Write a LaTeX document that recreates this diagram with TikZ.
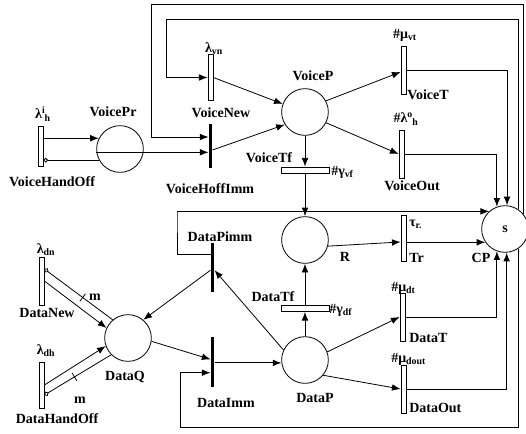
\documentclass[tikz,border=0pt]{standalone}
\usepackage{fontspec}
\setmainfont{Liberation Serif}
\usetikzlibrary{arrows.meta,calc}
\tikzset{
  place/.style={circle, draw, line width=0.6pt, minimum size=35pt, inner sep=0pt},
  tvbar/.style={draw, fill=white, line width=0.6pt, minimum width=3.75pt, minimum height=#1, inner sep=0pt},
  thbar/.style={draw, fill=white, line width=0.6pt, minimum width=36pt, minimum height=4.5pt, inner sep=0pt},
  ibar/.style={fill=black, minimum width=2.6pt, minimum height=#1, inner sep=0pt},
  arc/.style={line width=0.6pt, -{Latex[length=6.5pt,width=5pt]}},
  inh/.style={line width=0.6pt, -{Circle[open,length=3.5pt,width=3.5pt]}},
  tick/.style={sloped, draw, line width=0.6pt, inner sep=0pt, minimum width=0pt, minimum height=7pt, shape=rectangle},
  lbl/.style={font=\fontsize{10.5}{12}\selectfont\bfseries, inner sep=0pt},
}
\begin{document}
\begin{tikzpicture}[x=0.75pt,y=-0.75pt]
\clip (0,0) rectangle (526,433);
% corner coordinates of the long loops
\coordinate (ctopA) at (151,4);
\coordinate (ctopB) at (166,19);
\coordinate (cdp) at (177,212);
\coordinate (cbot) at (180,427);
% places
\node[place] (vpr) at (120,149) {};
\node[place] (vp) at (305,112) {};
\node[place] (r) at (305,240) {};
\node[place] (cp) at (505,229) {\fontsize{10.5}{12}\selectfont\bfseries s};
\node[place] (dq) at (128,338) {};
\node[place] (dp) at (305,360) {};
% transitions
\node[tvbar=30pt] (vho) at (40.5,146) {};
\node[ibar=33pt] (vhi) at (210.5,146) {};
\node[tvbar=34pt] (vn) at (210.5,77.5) {};
\node[tvbar=36pt] (vt) at (403.5,70) {};
\node[tvbar=36pt] (vo) at (401.5,154) {};
\node[thbar] (vtf) at (305,170) {};
\node[tvbar=35pt] (tr) at (403.5,238.5) {};
\node[thbar] (dtf) at (305,308.5) {};
\node[tvbar=36pt] (dt) at (402.5,317) {};
\node[tvbar=36pt] (do) at (403.5,389) {};
\node[ibar=36.75pt] (dpi) at (212.5,267.5) {};
\node[ibar=37.5pt] (di) at (212.5,362) {};
\node[tvbar=36pt] (dn) at (41.5,281) {};
\node[tvbar=34.5pt] (dh) at (41.5,385) {};
% arcs: voice part
\draw[arc] (vho.east |- vpr.153) -- (vpr.153);
\draw[inh] (vpr.208) -- (vho.east |- vpr.208);
\draw[arc] (vpr.188) -- (vpr.188 -| vhi.west);
\draw[arc] (cp.38) |- (ctopA) |- ([yshift=6.75pt]vhi.west);
\draw[arc] (cp.56) |- (ctopB) |- (vn.west);
\draw[arc] (vn.east) -- (vp.160);
\draw[arc] ([yshift=-3pt]vhi.east) -- (vp.212);
\draw[arc] (vp.28) -- ([yshift=-1.5pt]vt.west);
\draw[arc] (vp.333) -- (vo.west);
\draw[arc] (vt.east) -| (cp.85);
\draw[arc] (vo.east) -| (cp.110);
\draw[arc] (vp.south) -- (vtf.north);
\draw[arc] (vtf.south) -- (r.north);
\draw[arc] (r.345) -- ([yshift=-2.6pt]tr.west);
\draw[arc] (tr.east |- cp.214) -- (cp.214);
% arcs: data part
\draw[arc] ([yshift=10pt]dpi.west) -| (cdp) |- (cp.132);
\draw[arc] (dp.155) -- ([yshift=-2pt]dpi.east);
\draw[arc] ([yshift=-2pt]dpi.west) -- (dq.50);
\draw[arc] (dq.352) -- ([yshift=2pt]di.west);
\draw[arc] (di.east |- dp.187) -- (dp.187);
\draw[arc] (cp.304) |- (cbot) |- ([yshift=-8pt]di.west);
\draw[arc] (dp.north) -- (dtf.south);
\draw[arc] (dtf.north) -- (r.south);
\draw[arc] (dp.20) -- (dt.west);
\draw[arc] (dp.320) -- (do.west);
\draw[arc] (dt.east) -| (cp.250);
\draw[arc] (do.east) -| (cp.274);
\draw[arc] (dn.east) -- (dq.155);
\draw[inh] (dq.130) -- ([yshift=9pt]dn.east) node[tick, pos=0.44] (tk1) {};
\draw[arc] (dh.east) -- (dq.200);
\draw[inh] (dq.225) -- ([yshift=-7.5pt]dh.east) node[tick, pos=0.55] (tk2) {};
% labels
\node[lbl] (l1) at (43,114) {λ\textsuperscript{i}\kern-0.5pt\textsubscript{h}};
\node[lbl] (l2) at (113,112) {VoicePr};
\node[lbl] (l3) at (52,182) {VoiceHandOff};
\node[lbl] (l4) at (214,49) {λ\textsubscript{vn}};
\node[lbl] (l5) at (221,113) {VoiceNew};
\node[lbl] (l6) at (210,189) {VoiceHoffImm};
\node[lbl] (l7) at (313,76) {VoiceP};
\node[lbl] (l8) at (405,35) {\#μ\textsubscript{vt}};
\node[lbl, anchor=west] (l9) at (407,95) {VoiceT};
\node[lbl] (l10) at (406,119) {\#λ\textsuperscript{o}\kern-0.5pt\textsubscript{h}};
\node[lbl] (l11) at (412,186) {VoiceOut};
\node[lbl] (l12) at (269,158) {VoiceTf};
\node[lbl, anchor=west] (l13) at (331,172) {\#γ\textsubscript{vf}};
\node[lbl] (l14) at (345,257) {R};
\node[lbl, anchor=west] (l15) at (409,224) {τ\textsubscript{r.}};
\node[lbl, anchor=west] (l16) at (409,258) {Tr};
\node[lbl] (l17) at (481,258) {CP};
\node[lbl] (l18) at (220,237) {DataPimm};
\node[lbl] (l19) at (273,297) {DataTf};
\node[lbl, anchor=west] (l20) at (329,310) {\#γ\textsubscript{df}};
\node[lbl, anchor=west] (l21) at (391,288) {\#μ\textsubscript{dt}};
\node[lbl, anchor=west] (l22) at (409,338) {DataT};
\node[lbl, anchor=west] (l23) at (391,359) {\#μ\textsubscript{dout}};
\node[lbl, anchor=west] (l24) at (409,408) {DataOut};
\node[lbl] (l25) at (315,398) {DataP};
\node[lbl] (l26) at (226,403) {DataImm};
\node[lbl] (l27) at (125,377) {DataQ};
\node[lbl] (l28) at (46,250) {λ\textsubscript{dn}};
\node[lbl] (l29) at (47,313) {DataNew};
\node[lbl] (l30) at (95,297) {m};
\node[lbl] (l31) at (46,351) {λ\textsubscript{dh}};
\node[lbl] (l32) at (80,400) {m};
\node[lbl] (l33) at (57,419) {DataHandOff};
\end{tikzpicture}
\end{document}
